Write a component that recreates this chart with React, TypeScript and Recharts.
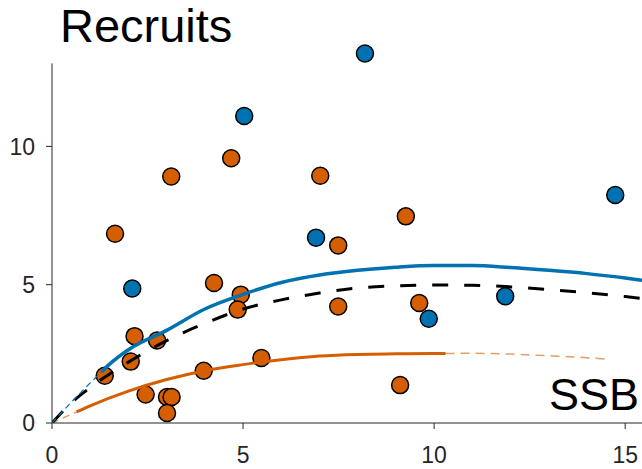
import { ComposedChart, XAxis, YAxis, Line, Scatter, ReferenceLine } from 'recharts';

const blueSsb = [8.19, 5.03, 14.74, 6.91, 2.1, 11.86, 9.86];
const blueRec = [13.36, 11.1, 8.24, 6.7, 4.86, 4.58, 3.77];

const orangeSsb = [4.69, 7.02, 3.12, 9.26, 1.65, 7.49, 4.24, 4.94, 4.86, 7.49, 9.61, 2.16, 2.75, 2.06, 1.38, 3.97, 5.48, 2.45, 3.01, 3.13, 3.01, 9.11];
const orangeRec = [9.57, 8.94, 8.91, 7.47, 6.84, 6.42, 5.06, 4.64, 4.1, 4.21, 4.34, 3.14, 2.98, 2.22, 1.71, 1.89, 2.35, 1.03, 0.94, 0.94, 0.36, 1.37];

// fitted curves
const blueStartSsb = [0, 0.5, 1, 1.3];
const blueStartRec = [0, 0.75, 1.45, 1.85];
const blueFitSsb = [1.3, 1.5, 2, 3, 4, 5, 6, 7, 8, 9, 10, 11, 12, 13, 14, 15, 15.44];
const blueFitRec = [1.85, 2.12, 2.65, 3.35, 4.12, 4.65, 5.08, 5.35, 5.52, 5.63, 5.69, 5.69, 5.62, 5.52, 5.4, 5.24, 5.16];

const allFitSsb = [0, 0.5, 1, 2, 3, 4, 5, 6, 7, 8, 9, 10, 11, 12, 13, 14, 15, 15.44];
const allFitRec = [0, 0.72, 1.28, 2.2, 2.98, 3.6, 4.12, 4.45, 4.7, 4.88, 4.96, 4.99, 4.98, 4.92, 4.82, 4.71, 4.57, 4.5];

const orangeStartSsb = [0, 0.64];
const orangeStartRec = [0, 0.4];
const orangeFitSsb = [0.64, 1, 2, 3, 4, 5, 6, 7, 8, 9, 10, 10.3];
const orangeFitRec = [0.4, 0.62, 1.15, 1.57, 1.89, 2.11, 2.29, 2.42, 2.48, 2.5, 2.51, 2.51];
const orangeEndSsb = [10.3, 11, 12, 13, 14, 14.6];
const orangeEndRec = [2.51, 2.52, 2.49, 2.43, 2.36, 2.3];

const xTicks = [0, 5, 10, 15];
const yTicks = [0, 5, 10];

const BLUE = '#0072B2';
const ORANGE = '#D55E00';
const AXIS = '#262626';
const FONT = '"Liberation Sans", Arial, sans-serif';

const zip = (xs: number[], ys: number[]) => xs.map((x, i) => ({ x, y: ys[i] }));

const dotShape = (fill: string) => (props: any) => (
  <circle cx={props.cx} cy={props.cy} r={8.5} fill={fill} stroke="#000" strokeWidth={1.5} />
);

const tickStyle = { fill: AXIS, fontSize: 23, fontFamily: FONT };

export default function App() {
  return (
    <div style={{ position: 'absolute', left: 0, top: 0, width: 642, height: 469, background: '#fff' }}>
      <ComposedChart width={642} height={469} margin={{ top: 38.5, right: 0, bottom: 6, left: 0 }}>
        <XAxis
          dataKey="x"
          type="number"
          domain={[0, 15.44]}
          ticks={xTicks}
          allowDataOverflow
          height={40}
          tickSize={6}
          tickMargin={18}
          stroke={AXIS}
          tick={tickStyle}
        />
        <YAxis
          dataKey="y"
          type="number"
          domain={[0, 13.9]}
          ticks={yTicks}
          allowDataOverflow
          width={52}
          tickSize={6}
          tickMargin={11}
          axisLine={false}
          stroke={AXIS}
          tick={tickStyle}
        />
        <ReferenceLine segment={[{ x: 0, y: 0 }, { x: 0, y: 13 }]} stroke={AXIS} ifOverflow="visible" />

        <Scatter data={zip(orangeSsb, orangeRec)} dataKey="y" shape={dotShape(ORANGE)} isAnimationActive={false} />
        <Scatter data={zip(blueSsb, blueRec)} dataKey="y" shape={dotShape(BLUE)} isAnimationActive={false} />

        <Line data={zip(orangeStartSsb, orangeStartRec)} dataKey="y" type="linear" stroke={ORANGE} strokeOpacity={0.6} strokeWidth={1.5} strokeDasharray="7 5" dot={false} activeDot={false} isAnimationActive={false} zIndex={700} />
        <Line data={zip(orangeFitSsb, orangeFitRec)} dataKey="y" type="monotone" stroke={ORANGE} strokeWidth={3} dot={false} activeDot={false} isAnimationActive={false} zIndex={700} />
        <Line data={zip(orangeEndSsb, orangeEndRec)} dataKey="y" type="monotone" stroke={ORANGE} strokeOpacity={0.6} strokeWidth={1.5} strokeDasharray="9 6" dot={false} activeDot={false} isAnimationActive={false} zIndex={700} />
        <Line data={zip(allFitSsb, allFitRec)} dataKey="y" type="monotone" stroke="#000" strokeWidth={3} strokeDasharray="16 16" dot={false} activeDot={false} isAnimationActive={false} zIndex={700} />
        <Line data={zip(blueStartSsb, blueStartRec)} dataKey="y" type="linear" stroke={BLUE} strokeWidth={1.2} strokeDasharray="6 4" dot={false} activeDot={false} isAnimationActive={false} zIndex={700} />
        <Line data={zip(blueFitSsb, blueFitRec)} dataKey="y" type="monotone" stroke={BLUE} strokeWidth={3.5} dot={false} activeDot={false} isAnimationActive={false} zIndex={700} />
      </ComposedChart>
      <svg width={642} height={469} style={{ position: 'absolute', left: 0, top: 0, pointerEvents: 'none' }}>
        <text x={60} y={42} fontSize={47} fontFamily={FONT} fill="#000">Recruits</text>
        <text x={549} y={410} fontSize={45} fontFamily={FONT} fill="#000">SSB</text>
      </svg>
    </div>
  );
}
